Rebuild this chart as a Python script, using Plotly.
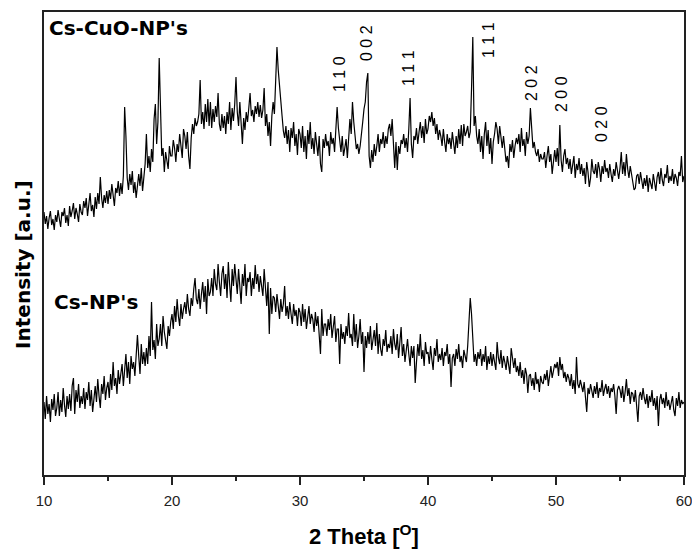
import plotly.graph_objects as go

# 2-theta grid: start and step (degrees)
theta_start = 10
theta_step = 0.1

# Cs-CuO-NP's pattern (arbitrary intensity), one row per degree, 10.0 .. 60.0
cuo_intensity = [
    262,250,258,245,256,263,249,255,244,259,
    252,264,255,247,262,258,266,251,259,248,
    268,257,263,271,255,266,260,252,270,262,
    259,273,266,276,258,270,281,263,269,257,
    277,265,281,270,297,276,266,279,271,283,
    270,284,275,290,279,268,286,281,293,278,
    291,280,298,367,338,296,284,300,289,303,
    281,292,276,290,300,288,306,283,296,310,
    340,306,318,302,325,312,355,370,330,352,
    416,360,318,326,302,322,314,305,328,318,
    318,334,326,312,330,322,340,328,316,345,
    338,325,342,318,305,336,350,340,356,348,
    352,360,394,350,362,345,370,352,375,348,
    372,346,365,352,368,357,381,350,343,360,
    346,358,340,362,350,372,344,366,353,370,
    397,362,348,372,350,330,356,344,362,352,
    366,381,358,364,352,368,360,372,357,369,
    356,364,386,348,360,338,352,328,358,372,
    360,388,427,404,385,372,358,343,336,348,
    330,344,322,346,336,352,328,340,319,345,
    340,326,348,322,338,315,344,330,352,325,
    336,320,342,330,318,338,310,302,335,326,
    340,328,333,318,342,330,336,322,345,367,
    346,330,322,338,318,326,335,316,342,355,
    340,372,352,334,325,330,320,328,338,352,
    365,372,392,401,318,306,324,312,330,318,
    328,340,322,335,330,342,326,338,330,345,
    350,338,355,326,306,332,304,328,320,334,
    330,340,326,336,322,345,376,330,316,338,
    334,346,330,342,352,336,348,331,355,340,
    345,358,352,362,348,356,340,350,334,344,
    338,328,345,332,322,340,330,336,325,342,
    332,320,338,326,345,330,349,328,350,338,
    342,348,336,342,385,437,348,358,338,330,
    345,322,338,315,340,352,328,344,320,336,
    310,332,340,352,345,330,348,336,326,338,
    325,312,318,306,330,322,334,316,328,336,
    330,340,322,346,328,335,318,342,330,338,
    366,340,326,332,322,318,325,312,320,315,
    315,322,306,318,328,312,320,300,316,324,
    312,326,308,349,314,302,318,325,310,316,
    305,315,300,312,318,296,310,304,316,300,
    310,298,306,290,312,302,287,296,315,303,
    300,310,296,312,305,292,308,300,314,302,
    306,296,310,300,292,305,298,312,303,295,
    306,322,300,312,298,320,305,296,308,300,
    292,284,286,298,300,290,302,294,285,296,
    288,299,282,296,290,285,300,292,283,297,
    302,290,306,294,288,300,296,309,291,298,
    293,305,290,300,296,288,302,298,318,292,
    298,
]

# Cs-NP's pattern (arbitrary intensity), 10.0 .. 60.0
np_intensity = [
    72,55,78,60,70,52,75,64,80,58,
    66,82,58,74,62,86,69,57,78,65,
    80,63,88,96,60,84,72,90,66,78,
    70,86,65,82,74,92,68,84,62,80,
    88,72,95,78,66,90,80,98,74,86,
    92,76,100,84,112,88,96,80,104,90,
    98,110,88,104,120,96,112,90,118,105,
    112,98,125,139,118,100,130,110,122,108,
    126,110,138,118,172,124,134,115,150,128,
    135,150,128,158,142,135,125,148,138,152,
    160,145,168,152,175,158,148,170,155,165,
    172,160,180,165,158,176,168,185,196,175,
    170,185,165,180,192,172,188,160,195,178,
    182,196,178,205,190,184,210,192,178,200,
    208,185,200,176,212,190,172,205,188,210,
    195,180,205,185,170,200,188,210,178,196,
    192,202,178,196,185,209,190,200,182,198,
    190,178,205,182,168,192,140,186,160,178,
    176,162,180,168,155,175,162,170,188,158,
    168,155,172,160,150,170,158,164,148,166,
    162,148,170,152,165,145,158,168,150,160,
    155,142,162,148,158,140,120,165,138,150,
    150,138,155,144,160,136,148,158,132,145,
    145,110,150,135,142,130,148,138,161,136,
    140,128,160,132,150,126,138,155,130,142,
    102,138,126,142,130,148,124,136,144,128,
    151,120,140,125,118,135,128,144,122,130,
    126,138,120,145,130,124,140,116,135,147,
    118,130,112,126,135,120,108,128,116,128,
    91,112,130,118,140,115,124,108,132,120,
    122,110,128,115,104,126,118,135,112,120,
    114,126,108,122,118,130,110,120,87,116,
    120,108,125,115,130,112,118,106,124,118,
    112,128,150,176,160,130,112,120,108,122,
    115,125,108,120,112,128,104,118,110,122,
    108,120,112,104,132,116,110,124,106,118,
    112,104,118,108,100,126,114,106,116,102,
    108,98,112,96,104,90,106,100,81,98,
    100,88,96,84,102,90,95,82,98,92,
    90,100,94,104,88,98,108,96,102,110,
    106,112,98,117,104,110,96,102,92,100,
    96,88,100,85,94,80,117,90,86,94,
    88,82,92,78,62,86,80,90,84,76,
    88,80,92,76,86,82,94,78,85,90,
    80,88,76,86,82,90,78,60,84,88,
    84,76,88,72,82,95,78,86,70,82,
    80,72,84,70,52,78,82,74,86,76,
    70,80,66,78,72,84,68,76,64,78,
    48,74,80,70,76,66,82,68,74,64,
    70,78,64,58,76,68,82,66,74,70,
    72,
]

# Miller index labels (text, 2-theta position, label height in intensity units)
peak_labels = ["1 1 0", "0 0 2", "1 1 1", "1 1 1", "2 0 2", "2 0 0", "0 2 0"]
peak_theta = [33.05, 35.16, 38.44, 44.69, 48.05, 50.39, 53.52]
peak_label_y = [400, 431, 406, 434, 391, 380, 350]

series_names = ["Cs-CuO-NP's", "Cs-NP's"]
x_ticks = [10, 20, 30, 40, 50, 60]

fig = go.Figure()
for name, ys in zip(series_names, [cuo_intensity, np_intensity]):
    fig.add_trace(go.Scatter(
        x0=theta_start, dx=theta_step, y=ys, mode="lines", name=name,
        line=dict(color="black", width=1.2), hoverinfo="skip",
    ))

ann = []
for t, px, py in zip(peak_labels, peak_theta, peak_label_y):
    ann.append(dict(x=px, y=py, xref="x", yref="y", text=t, showarrow=False,
                    textangle=-90, xanchor="center", yanchor="middle",
                    font=dict(family="Liberation Sans, Arial", size=16, color="black")))

ann.append(dict(x=10.22, y=446, xref="x", yref="y", text="<b>Cs-CuO-NP's</b>",
                showarrow=False, xanchor="left", yanchor="middle",
                font=dict(family="DejaVu Sans", size=20, color="black")))
ann.append(dict(x=10.62, y=172, xref="x", yref="y", text="<b>Cs-NP's</b>",
                showarrow=False, xanchor="left", yanchor="middle",
                font=dict(family="DejaVu Sans", size=20, color="black")))
ann.append(dict(x=-0.033, y=210, xref="paper", yref="y", text="<b>Intensity [a.u.]</b>",
                showarrow=False, textangle=-90, xanchor="center", yanchor="middle",
                font=dict(family="DejaVu Sans", size=20, color="black")))
ann.append(dict(x=35, y=-0.13, xref="x", yref="paper",
                text="<b>2 Theta [<sup>O</sup>]</b>",
                showarrow=False, xanchor="center", yanchor="middle",
                font=dict(family="Liberation Sans, Arial", size=22, color="black")))

axis_col = "#222222"
fig.update_layout(
    width=692, height=551,
    margin=dict(l=44, r=8, t=12, b=76, autoexpand=False),
    paper_bgcolor="white", plot_bgcolor="white",
    showlegend=False,
    annotations=ann,
    xaxis=dict(
        range=[10, 60], showline=True, linecolor=axis_col, linewidth=1.5, mirror=True,
        ticks="outside", ticklen=8, tickwidth=1.5, tickcolor=axis_col,
        tickvals=x_ticks, ticktext=[str(v) for v in x_ticks],
        showgrid=False, zeroline=False, ticklabelstandoff=3, automargin=False,
        ticklabeloverflow="allow",
        tickfont=dict(family="Liberation Sans, Arial", size=15, color=axis_col),
        minor=dict(dtick=5, tick0=10, ticks="outside", ticklen=4, tickwidth=1.5,
                   tickcolor=axis_col, showgrid=False),
    ),
    yaxis=dict(
        range=[-1, 462], showline=True, linecolor=axis_col, linewidth=1.5, mirror=True,
        showticklabels=False, ticks="", showgrid=False, zeroline=False, automargin=False,
    ),
)

fig.write_html(
    "out.html",
    config={"displayModeBar": False, "responsive": False},
    post_script=("document.documentElement.style.overflow='hidden';"
                 "document.body.style.overflow='hidden';"
                 "document.body.style.margin='0';"),
)
